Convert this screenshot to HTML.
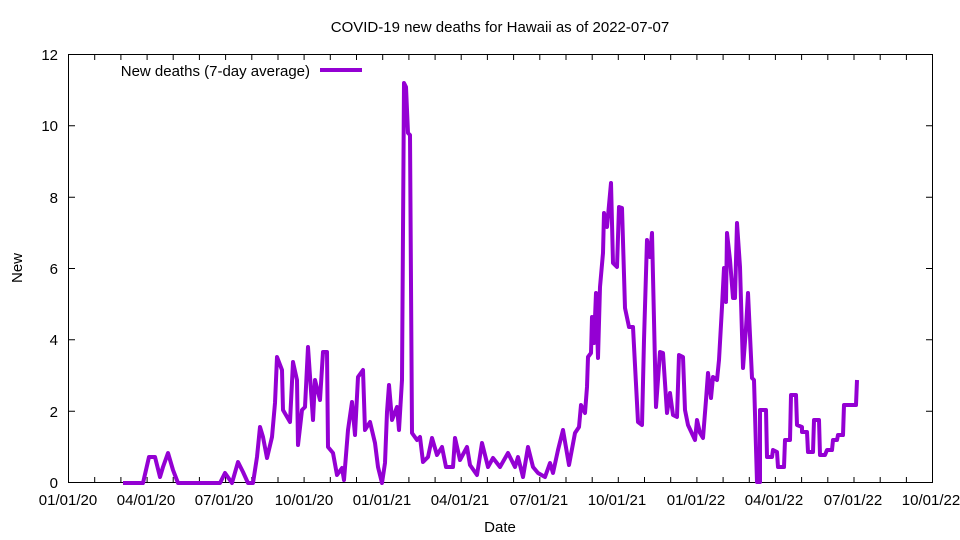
<!DOCTYPE html>
<html><head><meta charset="utf-8"><style>
body{margin:0;background:#fff}
svg{display:block;font-family:"Liberation Sans",sans-serif}
</style></head><body>
<svg width="960" height="540" xmlns="http://www.w3.org/2000/svg">
<rect width="960" height="540" fill="#fff"/>
<text x="500" y="32" font-size="15" text-anchor="middle">COVID-19 new deaths for Hawaii as of 2022-07-07</text>
<path stroke="#000" stroke-width="1" fill="none" d="M94.7 482.5V477M120.9 482.5V477M147.1 482.5V477M173.2 482.5V477M199.4 482.5V477M225.6 482.5V477M251.8 482.5V477M278 482.5V477M304.1 482.5V477M330.3 482.5V477M356.5 482.5V477M382.7 482.5V477M408.9 482.5V477M435.1 482.5V477M461.2 482.5V477M487.4 482.5V477M513.6 482.5V477M539.8 482.5V477M566 482.5V477M592.2 482.5V477M618.3 482.5V477M644.5 482.5V477M670.7 482.5V477M696.9 482.5V477M723.1 482.5V477M749.3 482.5V477M775.4 482.5V477M801.6 482.5V477M827.8 482.5V477M854 482.5V477M880.2 482.5V477M906.4 482.5V477
M94.7 54.5V60M120.9 54.5V60M147.1 54.5V60M173.2 54.5V60M199.4 54.5V60M225.6 54.5V60M251.8 54.5V60M278 54.5V60M304.1 54.5V60M330.3 54.5V60M356.5 54.5V60M382.7 54.5V60M408.9 54.5V60M435.1 54.5V60M461.2 54.5V60M487.4 54.5V60M513.6 54.5V60M539.8 54.5V60M566 54.5V60M592.2 54.5V60M618.3 54.5V60M644.5 54.5V60M670.7 54.5V60M696.9 54.5V60M723.1 54.5V60M749.3 54.5V60M775.4 54.5V60M801.6 54.5V60M827.8 54.5V60M854 54.5V60M880.2 54.5V60M906.4 54.5V60
M68.5 411.2H75M68.5 339.8H75M68.5 268.5H75M68.5 197.2H75M68.5 125.8H75M932.5 411.2H926M932.5 339.8H926M932.5 268.5H926M932.5 197.2H926M932.5 125.8H926"/>
<rect x="68.5" y="54.5" width="864" height="428" fill="none" stroke="#000" stroke-width="1"/>
<g font-size="15" text-anchor="end">
<text x="58" y="488">0</text><text x="58" y="417">2</text><text x="58" y="345">4</text><text x="58" y="274">6</text><text x="58" y="203">8</text><text x="58" y="131">10</text><text x="58" y="60">12</text>
</g>
<g font-size="15" text-anchor="middle">
<text x="68" y="505">01/01/20</text><text x="146" y="505">04/01/20</text><text x="224" y="505">07/01/20</text><text x="304" y="505">10/01/20</text><text x="382" y="505">01/01/21</text><text x="460" y="505">04/01/21</text><text x="539" y="505">07/01/21</text><text x="617" y="505">10/01/21</text><text x="696" y="505">01/01/22</text><text x="774" y="505">04/01/22</text><text x="853" y="505">07/01/22</text><text x="931" y="505">10/01/22</text>
<text x="500" y="532">Date</text>
<text transform="translate(22,268) rotate(-90)">New</text>
</g>
<text x="310" y="76" font-size="15" text-anchor="end">New deaths (7-day average)</text>
<line x1="320" y1="70" x2="362" y2="70" stroke="#9400D3" stroke-width="4"/>
<polyline fill="none" stroke="#9400D3" stroke-width="4" stroke-linejoin="round" points="123,483 143,483 149,457 155,457 160,477 163,467 168,453 173,470 178,483 220,483 225,473 232,483 238,462 243,472 248,483 253,483 257,457 260,427 263,437 267,458 272,437 275,403 277,357 282,370 283,410 290,422 293,362 297,380 298,445 302,410 305,407 308,347 313,420 315,380 320,400 323,352 327,352 328,447 333,453 337,475 342,468 344,480 348,430 352,402 355,435 358,377 363,370 365,430 370,422 375,443 378,467 382,483 385,463 387,412 389,385 392,420 397,407 399,430 402,380 404,83 406,87 408,133 410,135 412,433 417,440 420,437 423,462 428,457 432,438 437,455 442,447 446,467 453,467 455,438 460,460 467,447 470,465 477,475 482,443 488,467 493,458 500,467 508,453 515,467 518,457 523,477 528,447 533,467 538,473 545,477 550,463 553,473 558,450 563,430 569,465 575,433 579,427 581,405 585,413 587,387 588,357 591,353 592,317 594,343 596,293 598,358 600,287 603,253 604,213 607,227 611,183 613,263 617,267 619,207 622,208 625,308 629,327 633,327 638,422 642,425 644,340 647,240 650,257 652,233 656,407 660,352 663,353 667,413 670,393 673,415 677,417 679,355 683,357 685,410 688,425 695,440 697,420 700,433 703,438 706,400 708,373 711,398 713,377 717,380 719,360 722,307 724,268 726,302 727,233 730,260 733,298 735,298 737,223 740,267 743,368 746,328 748,293 752,378 754,380 757,482 760,482 760,410 766,410 767,457 772,457 773,450 777,452 778,467 784,467 785,440 790,440 791,395 796,395 797,425 802,427 802,432 807,432 808,452 813,452 814,420 819,420 820,455 825,455 827,450 832,450 833,440 837,440 838,435 843,435 844,405 856,405 857,380"/>
</svg>
</body></html>
